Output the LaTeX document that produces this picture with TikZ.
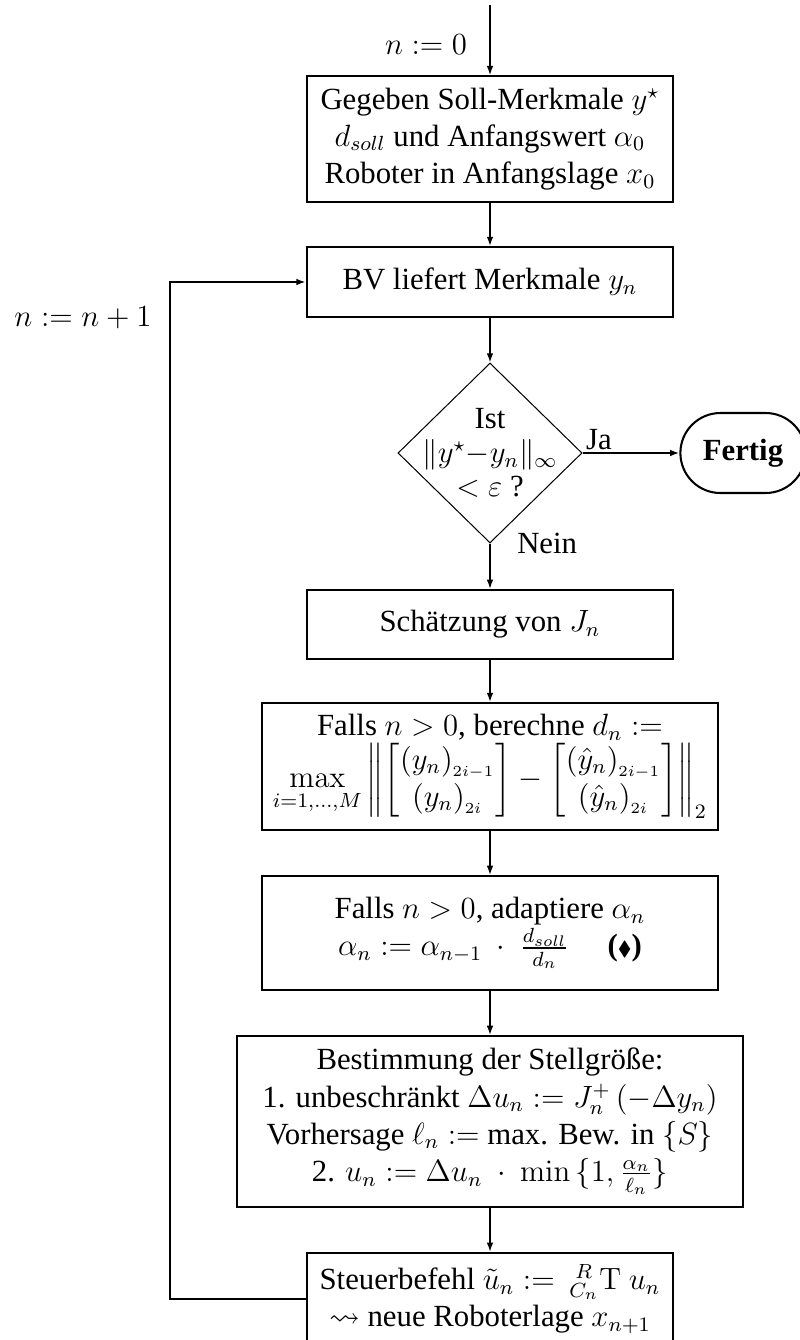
\documentclass[tikz,border=0pt]{standalone}
\usepackage{amsmath}
\usepackage{amssymb}
\usepackage[no-math]{fontspec}
\setmainfont{Liberation Serif}
\usepackage{tikz}
\usetikzlibrary{arrows.meta,positioning,shapes.geometric,shapes.misc}
\tikzset{box/.style={rectangle, draw=black, thick, align=center, inner sep=2pt, execute at begin node=\setlength{\baselineskip}{14.5pt}}}
\tikzset{test/.style={diamond, draw=black, thin, align=center, inner sep=-10pt, minimum width=71.8pt, minimum height=70.2pt, execute at begin node=\setlength{\baselineskip}{13.3pt}}}
\tikzset{stop/.style={rounded rectangle, draw=black, thick, font=\fontsize{12pt}{14.5pt}\selectfont\bfseries}}
\tikzset{flow/.style={semithick,->}}

\begin{document}
\begin{tikzpicture}[x=0.39pt,y=-0.39pt,font=\fontsize{12pt}{14.5pt}\selectfont,>={Latex[length=3.6pt,width=2.6pt]}]
		\useasboundingbox (0,0) rectangle (799,1340);
		\coordinate (start) at (490,5);
		\node[anchor=east] (init) at (476,45) {$n:=0$};
		\node[box,minimum width=143pt,minimum height=49pt] (given) at (490,139) {Gegeben Soll-Merkmale $y^\star$\\ $d_{soll}$ und Anfangswert $\alpha_0$\\ Roboter in Anfangslage $x_0$};
		\node[box,minimum width=143pt,minimum height=27.3pt] (features) at (490,282) {BV liefert Merkmale $y_n$};
		\node (incr) at (83,318) {$n:=n+1$};
		\node[test] (check) at (490,453) {Ist\\ $\|y^\star{-}y_n\|_\infty$\\ $<\varepsilon$ ?};
		\node[stop,minimum width=55.5pt,minimum height=31.2pt] (done) at (743,453) {Fertig};
		\node[box,minimum width=143pt,minimum height=27pt] (jacobian) at (490,624.5) {Sch\"atzung von $J_n$};
		\node[box,minimum width=178pt,minimum height=49.5pt] (dist) at (490,766.5) {Falls $n>0$, berechne $d_n:=$\\ $\max\limits_{i=1,\dots,M}\left\|\begin{bmatrix}(y_n)_{_{2i-1}}\\(y_n)_{_{2i}}\end{bmatrix}-\begin{bmatrix}(\hat{y}_n)_{_{2i-1}}\\(\hat{y}_n)_{_{2i}}\end{bmatrix}\right\|_2$};
		\node[box,minimum width=178pt,minimum height=44.5pt] (alpha) at (490,933) {Falls $n>0$, adaptiere $\alpha_n$\\ $\alpha_n:=\alpha_{n-1}\ \cdot\ \frac{d_{soll}}{d_n}$\quad\ \textbf{(}$\scriptstyle\blacklozenge$\textbf{)}};
		\node[box,minimum width=197pt,minimum height=66.7pt] (control) at (490,1121.5) {Bestimmung der Stellgr\"o\ss e:\\ 1. unbeschr\"ankt $\Delta u_n:=J_n^+\,(-\Delta y_n)$\\ Vorhersage $\ell_n:=$ max. Bew. in $\{S\}$\\ 2. $u_n:=\Delta u_n\ \cdot\ \min\,\{1,\frac{\alpha_n}{\ell_n}\}$};
		\node[box,minimum width=143pt,minimum height=36pt] (command) at (490,1299) {Steuerbefehl $\tilde{u}_n:={}^{\;\;R}_{\;C_n}\mathrm{T}\ u_n$\\ $\leadsto$ neue Roboterlage $x_{n+1}$};
		\draw[flow] (start) -- (given.north);
		\draw[flow] (given) -- (features);
		\draw[flow] (features) -- (check);
		\draw[flow,thick] (check.east) -- (done.west) node[pos=0,anchor=south west,inner sep=1pt]{Ja};
		\draw[flow] (check.south) -- (jacobian.north) node[pos=0,anchor=west,xshift=7pt]{Nein};
		\draw[flow] (jacobian) -- (dist);
		\draw[flow] (dist) -- (alpha);
		\draw[flow] (alpha) -- (control);
		\draw[flow] (control) -- (command);
		\draw[thick,->] (command.west) -- ++(-136,0) |- (features.west);
		\end{tikzpicture}
\end{document}
